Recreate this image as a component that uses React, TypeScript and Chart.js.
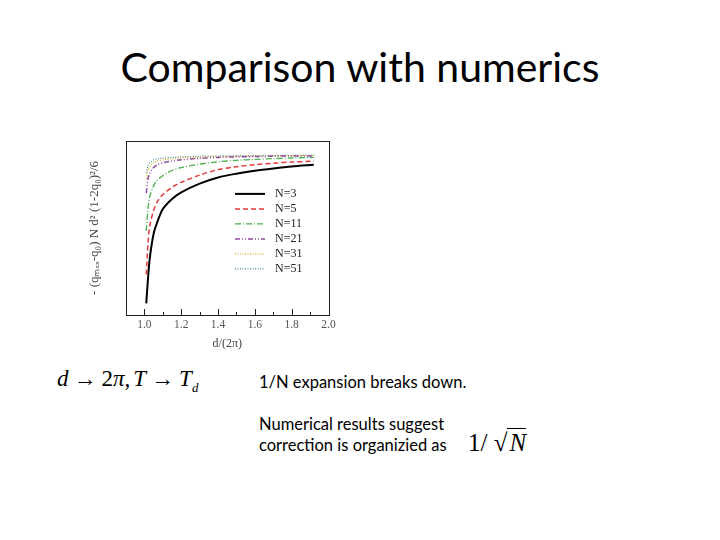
import React, { useEffect, useRef } from "react";
import { Chart, registerables } from "chart.js";

Chart.register(...registerables);

const xValues = [1.01, 1.02, 1.03, 1.05, 1.07, 1.1, 1.15, 1.2, 1.3, 1.4, 1.5, 1.6, 1.7, 1.8, 1.92];
const seriesLabels = ["N=3", "N=5", "N=11", "N=21", "N=31", "N=51"];
const n3 = [0.49, 0.58, 0.65, 0.73, 0.77, 0.815, 0.85, 0.873, 0.903, 0.924, 0.937, 0.947, 0.955, 0.962, 0.968];
const n5 = [0.59, 0.7, 0.76, 0.81, 0.84, 0.865, 0.89, 0.907, 0.932, 0.951, 0.961, 0.968, 0.973, 0.977, 0.98];
const n11 = [0.74, 0.82, 0.86, 0.895, 0.915, 0.93, 0.948, 0.958, 0.97, 0.978, 0.983, 0.986, 0.989, 0.991, 0.993];
const n21 = [0.87, 0.92, 0.94, 0.958, 0.968, 0.975, 0.981, 0.985, 0.99, 0.993, 0.995, 0.996, 0.997, 0.998, 0.998];
const n31 = [0.92, 0.95, 0.963, 0.975, 0.981, 0.985, 0.988, 0.991, 0.994, 0.996, 0.997, 0.998, 0.999, 0.999, 1.0];
const n51 = [0.94, 0.965, 0.975, 0.985, 0.988, 0.991, 0.993, 0.995, 0.997, 0.998, 0.999, 0.999, 1.0, 1.0, 1.0];
const seriesValues = [n3, n5, n11, n21, n31, n51];
const seriesColors = ["#000000", "#e03a3a", "#4cae4c", "#8e4a9e", "#d6b21f", "#4a8aa0"];
const seriesDashes = [[], [5, 3], [6, 2, 1, 2], [5, 2, 1, 2, 1, 2], [1, 1.5], [1, 1.5]];
const seriesWidths = [2, 1.5, 1.3, 1.5, 1.2, 1.2];

const X_MIN = 0.9;
const X_MAX = 2.0;
const Y_MIN = 0.45;
const Y_MAX = 1.05;

const isTenth = (v: number) => Math.abs(v * 10 - Math.round(v * 10)) < 1e-6;
const isFifth = (v: number) => isTenth(v) && Math.round(v * 10) % 2 === 0;

const framePlugin = {
  id: "frame",
  afterDraw(chart: any) {
    const { ctx, chartArea: a, scales } = chart;
    ctx.save();
    ctx.strokeStyle = "#222";
    ctx.lineWidth = 1;
    ctx.setLineDash([]);
    ctx.strokeRect(Math.round(a.left) + 0.5, Math.round(a.top) + 0.5, Math.round(a.width), Math.round(a.height));
    ctx.beginPath();
    for (const t of scales.x.ticks) {
      const v = t.value;
      if (!isTenth(v) || v <= X_MIN + 1e-6 || v >= X_MAX - 1e-6) continue;
      const len = isFifth(v) ? 6 : 3;
      const px = Math.round(scales.x.getPixelForValue(v)) + 0.5;
      ctx.moveTo(px, a.bottom);
      ctx.lineTo(px, a.bottom - len);
    }
    for (const t of scales.y.ticks) {
      const v = t.value;
      if (!isTenth(v) || v <= Y_MIN + 1e-6 || v >= Y_MAX - 1e-6) continue;
      const len = isFifth(v) ? 8 : 3;
      const py = Math.round(scales.y.getPixelForValue(v)) + 0.5;
      ctx.moveTo(a.left, py);
      ctx.lineTo(a.left + len, py);
    }
    ctx.stroke();
    // legend inside plot
    const lx0 = a.left + 109;
    const lx1 = lx0 + 30;
    const ly0 = a.top + 53;
    chart.data.datasets.forEach((ds: any, i: number) => {
      const y = ly0 + i * 15;
      ctx.beginPath();
      ctx.strokeStyle = ds.borderColor;
      ctx.lineWidth = ds.borderWidth;
      ctx.setLineDash(ds.borderDash || []);
      ctx.moveTo(lx0, y);
      ctx.lineTo(lx1, y);
      ctx.stroke();
      ctx.setLineDash([]);
      ctx.fillStyle = "#222";
      ctx.font = "12px 'Liberation Serif'";
      ctx.textBaseline = "middle";
      ctx.fillText(ds.label, lx1 + 10, y);
    });
    ctx.restore();
  },
};

function PlotChart() {
  const ref = useRef<HTMLCanvasElement>(null);
  useEffect(() => {
    if (!ref.current) return;
    const chart = new Chart(ref.current, {
      type: "line",
      data: {
        datasets: seriesLabels.map((label, i) => ({
          label,
          data: xValues.map((x, j) => ({ x, y: seriesValues[i][j] })),
          borderColor: seriesColors[i],
          borderWidth: seriesWidths[i],
          borderDash: seriesDashes[i],
          pointRadius: 0,
          tension: 0.3,
          fill: false,
        })),
      },
      options: {
        animation: false,
        responsive: false,
        maintainAspectRatio: false,
        layout: { padding: { top: 3, right: 11.5, left: 0, bottom: 0 } },
        plugins: { legend: { display: false }, tooltip: { enabled: false } },
        scales: {
          x: {
            type: "linear",
            min: X_MIN,
            max: X_MAX,
            border: { display: false },
            grid: { display: false, drawTicks: false },
            ticks: {
              stepSize: 0.1,
              maxTicksLimit: 40,
              autoSkip: false,
              maxRotation: 0,
              padding: 3,
              color: "#555",
              font: { family: "'Liberation Serif'", size: 11.5 },
              callback: (v: any) => (isFifth(Number(v)) && Number(v) >= 1 ? Number(v).toFixed(1) : ""),
            },
            title: {
              display: true,
              text: "d/(2π)",
              color: "#444",
              font: { family: "'Liberation Serif'", size: 12 },
              padding: { top: 2, bottom: 4 },
            },
            afterFit: (s: any) => {
              s.height = 40;
            },
          },
          y: {
            type: "linear",
            min: Y_MIN,
            max: Y_MAX,
            border: { display: false },
            grid: { display: false, drawTicks: false },
            ticks: {
              stepSize: 0.1,
              maxTicksLimit: 40,
              autoSkip: false,
              padding: 4,
              color: "#555",
              font: { family: "'Liberation Serif'", size: 11.5 },
              callback: (v: any) => (isFifth(Number(v)) && Number(v) >= 0.6 ? Number(v).toFixed(1) : ""),
            },
            title: {
              display: true,
              text: "- (qₘₐₓ-q₀) N d² (1-2q₀)²/6",
              color: "#444",
              font: { family: "'Liberation Serif'", size: 13 },
              padding: { top: 7, bottom: 2 },
            },
            afterFit: (s: any) => {
              s.width = 46;
            },
          },
        },
      },
      plugins: [framePlugin],
    });
    return () => chart.destroy();
  }, []);
  return (
    <canvas
      ref={ref}
      width={260}
      height={225}
      style={{ position: "absolute", left: 80, top: 130, width: 260, height: 225 }}
    />
  );
}

export default function App() {
  const sans = "Lato, 'Open Sans', sans-serif";
  const serif = "'Liberation Serif', 'DejaVu Serif', serif";
  return (
    <div
      style={{
        position: "absolute",
        left: 0,
        top: 0,
        width: 720,
        height: 540,
        background: "#fff",
        overflow: "hidden",
        fontFamily: sans,
        color: "#000",
      }}
    >
      <div
        style={{
          position: "absolute",
          left: 0,
          top: 46,
          width: 720,
          textAlign: "center",
          fontSize: 41,
          lineHeight: 1,
          whiteSpace: "nowrap",
        }}
      >
        Comparison with numerics
      </div>
      <PlotChart />
      <div
        style={{
          position: "absolute",
          left: 57,
          top: 367,
          fontFamily: serif,
          fontSize: 23,
          lineHeight: 1,
          whiteSpace: "nowrap",
        }}
      >
        <i>d</i>
        <span style={{ margin: "0 5px" }}>→</span>2<i>π</i>
        <span style={{ marginRight: 3 }}>,</span>
        <i>T</i>
        <span style={{ margin: "0 5px" }}>→</span>
        <i>T</i>
        <sub style={{ fontSize: 13 }}>
          <i>d</i>
        </sub>
      </div>
      <div style={{ position: "absolute", left: 259, top: 374, fontSize: 16.5, lineHeight: 1, whiteSpace: "nowrap" }}>
        1/N expansion breaks down.
      </div>
      <div style={{ position: "absolute", left: 259, top: 413.5, fontSize: 16.5, lineHeight: "21px", whiteSpace: "nowrap" }}>
        Numerical results suggest
        <br />
        correction is organizied as
      </div>
      <div
        style={{
          position: "absolute",
          left: 468,
          top: 430,
          fontFamily: serif,
          fontSize: 25,
          lineHeight: 1,
          whiteSpace: "nowrap",
        }}
      >
        1/ √<span style={{ borderTop: "1px solid #000", fontStyle: "italic", paddingLeft: 2 }}>N</span>
      </div>
    </div>
  );
}
